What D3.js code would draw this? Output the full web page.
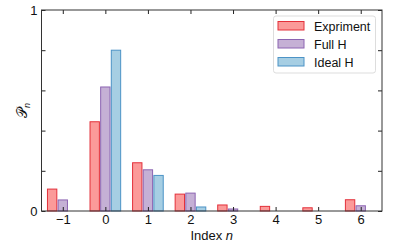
<!DOCTYPE html>
<html>
<head>
<meta charset="utf-8">
<script src="https://cdn.jsdelivr.net/npm/d3@7"></script>
<style>
  body { margin: 0; background: #fff; }
  text { font-family: "Liberation Sans", Arial, sans-serif; fill: #111; }
</style>
</head>
<body>
<div id="chart"></div>
<script>
// Data
var indices = [-1, 0, 1, 2, 3, 4, 5, 6];
var seriesNames = ["Expriment", "Full H", "Ideal H"];
var experiment = [0.109, 0.444, 0.240, 0.084, 0.030, 0.023, 0.016, 0.056];
var fullH      = [0.055, 0.617, 0.205, 0.089, 0.010, 0.000, 0.000, 0.026];
var idealH     = [0.000, 0.800, 0.177, 0.020, 0.000, 0.000, 0.000, 0.000];
var yTicks = [0, 0.2, 0.4, 0.6, 0.8, 1];
var yTickLabels = { 0: "0", 1: "1" };

var W = 415, H = 249;
var MARGIN = { top: 10, right: 33, bottom: 38, left: 41.5 };
var FILLS = ["#fb9a99", "#c5b0d5", "#a6cee3"];
var EDGES = ["#e3303a", "#8c64b2", "#4c93c6"];
var BAR_W = 0.22, BAR_STEP = 0.25;

var svg = d3.select("#chart").append("svg")
  .attr("width", W)
  .attr("height", H);

var x = d3.scaleLinear().domain([-1.5, 6.5]).range([MARGIN.left, W - MARGIN.right]);
var y = d3.scaleLinear().domain([0, 1]).range([H - MARGIN.bottom, MARGIN.top]);

var series = [experiment, fullH, idealH];

// bars
series.forEach(function(vals, s) {
  svg.append("g").selectAll("rect")
    .data(vals.map(function(v, i) { return { n: indices[i], v: v }; })
      .filter(function(d) { return d.v > 0; }))
    .enter().append("rect")
    .attr("x", function(d) { return x(d.n + (s - 1) * BAR_STEP - BAR_W / 2); })
    .attr("width", function(d) { return x(BAR_W) - x(0); })
    .attr("y", function(d) { return y(d.v); })
    .attr("height", function(d) { return y(0) - y(d.v); })
    .attr("fill", FILLS[s])
    .attr("stroke", EDGES[s])
    .attr("stroke-width", 1);
});

// axes with inward ticks
var TICK = 4;
svg.append("g")
  .attr("transform", "translate(0," + y(0) + ")")
  .call(d3.axisBottom(x).tickValues(indices).tickSizeInner(-TICK).tickSizeOuter(0)
    .tickFormat(function(d) { return d < 0 ? "\u2212" + (-d) : d; }))
  .call(function(g) {
    g.select(".domain").remove();
    g.selectAll("line").attr("stroke", "#222");
    g.selectAll("text").attr("y", 4).attr("font-size", 13);
  });

svg.append("g")
  .attr("transform", "translate(0," + y(1) + ")")
  .call(d3.axisTop(x).tickValues(indices).tickSizeInner(-TICK).tickSizeOuter(0).tickFormat(""))
  .call(function(g) { g.select(".domain").remove(); g.selectAll("line").attr("stroke", "#222"); });

svg.append("g")
  .attr("transform", "translate(" + x(-1.5) + ",0)")
  .call(d3.axisLeft(y).tickValues(yTicks).tickSizeInner(-TICK).tickSizeOuter(0)
    .tickFormat(function(d) { return yTickLabels[d] || ""; }))
  .call(function(g) {
    g.select(".domain").remove();
    g.selectAll("line").attr("stroke", "#222");
    g.selectAll("text").attr("x", -4).attr("font-size", 13);
  });

svg.append("g")
  .attr("transform", "translate(" + x(6.5) + ",0)")
  .call(d3.axisRight(y).tickValues(yTicks).tickSizeInner(-TICK).tickSizeOuter(0).tickFormat(""))
  .call(function(g) { g.select(".domain").remove(); g.selectAll("line").attr("stroke", "#222"); });

// frame
svg.append("rect")
  .attr("x", x(-1.5)).attr("y", y(1))
  .attr("width", x(6.5) - x(-1.5)).attr("height", y(0) - y(1))
  .attr("fill", "none").attr("stroke", "#333").attr("stroke-width", 1);

// axis labels
svg.append("text")
  .attr("x", (x(-1.5) + x(6.5)) / 2).attr("y", 240)
  .attr("text-anchor", "middle").attr("font-size", 13)
  .html('Index <tspan font-style="italic">n</tspan>');

svg.append("text")
  .attr("transform", "translate(27," + ((y(0) + y(1)) / 2) + ") rotate(-90)")
  .attr("text-anchor", "middle").attr("font-size", 14)
  .html('<tspan>\uD835\uDCAB</tspan><tspan font-style="italic" font-size="9" dy="3">n</tspan>');

// legend
var lg = svg.append("g").attr("transform", "translate(273.5,16)");
lg.append("rect")
  .attr("width", 102).attr("height", 57).attr("rx", 2.5)
  .attr("fill", "#fff").attr("stroke", "#ddd");
seriesNames.forEach(function(name, s) {
  var row = lg.append("g").attr("transform", "translate(4.5," + (5.5 + s * 18) + ")");
  row.append("rect").attr("width", 26).attr("height", 8.5)
    .attr("fill", FILLS[s]).attr("stroke", EDGES[s]);
  row.append("text").attr("x", 36).attr("y", 9).attr("font-size", 12.5).text(name);
});
</script>
</body>
</html>
